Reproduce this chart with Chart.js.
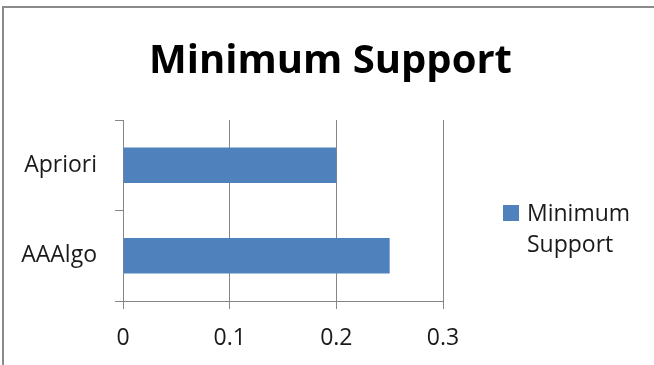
<!DOCTYPE html>
<html>
<head>
<meta charset="utf-8">
<script src="https://cdn.jsdelivr.net/npm/chart.js@4.4.1/dist/chart.umd.min.js"></script>
<style>
  html, body { margin: 0; padding: 0; background: #fff; }
  #wrap { width: 654px; height: 365px; position: relative; }
</style>
</head>
<body>
<div id="wrap"><canvas id="supportChart" width="654" height="365"></canvas></div>
<script>
const categories = ['Apriori', 'AAAlgo'];
const seriesName = 'Minimum Support';
const supportValues = [0.2, 0.25];
const xTicks = [0, 0.1, 0.2, 0.3];

const barColor = '#4F81BD';
const gridColor = '#868686';
const textColor = '#1a1a1a';
const fontFamily = "'Open Sans', 'DejaVu Sans', sans-serif";

// frame round the chart + legend on the right
const framePlugin = {
    id: 'frame',
    beforeDraw(chart) {
        const ctx = chart.ctx;
        ctx.save();
        ctx.fillStyle = '#fff';
        ctx.fillRect(0, 0, chart.width, chart.height);
        ctx.fillStyle = '#8a8a8a';
        ctx.fillRect(2, 6, 2, chart.height - 6);
        ctx.fillRect(2, 6, chart.width - 2, 2);
        ctx.restore();
    },
    afterDraw(chart) {
        const ctx = chart.ctx;
        const ds = chart.data.datasets[0];
        ctx.save();
        ctx.fillStyle = ds.backgroundColor;
        ctx.fillRect(503, 205, 16, 16);
        ctx.fillStyle = textColor;
        ctx.font = "23px " + fontFamily;
        ctx.textBaseline = 'alphabetic';
        ctx.textAlign = 'left';
        const words = ds.label.split(' ');
        ctx.fillText(words[0], 527, 221);
        ctx.fillText(words[1], 527, 252);
        ctx.restore();
    }
};

new Chart(document.getElementById('supportChart'), {
    type: 'bar',
    data: {
        labels: categories,
        datasets: [{
            label: seriesName,
            data: supportValues,
            backgroundColor: barColor,
            borderWidth: 0,
            categoryPercentage: 1,
            barPercentage: 0.39
        }]
    },
    options: {
        indexAxis: 'y',
        responsive: false,
        animation: false,
        layout: { padding: { left: 7, right: 0, top: 0, bottom: 0 } },
        plugins: {
            legend: { display: false },
            tooltip: { enabled: false },
            title: {
                display: true,
                text: 'Minimum Support',
                color: '#000',
                font: { family: fontFamily, size: 40, weight: 'bold', lineHeight: 1.2 },
                padding: { top: 38, bottom: 34 }
            }
        },
        scales: {
            x: {
                min: 0,
                max: 0.3,
                afterBuildTicks(scale) {
                    scale.ticks = xTicks.map(v => ({ value: v }));
                },
                afterFit(scale) { scale.height = 64; },
                grid: { color: gridColor, tickLength: 8, lineWidth: 1 },
                border: { display: true, color: gridColor },
                ticks: {
                    color: textColor,
                    padding: 16,
                    font: { family: fontFamily, size: 23 },
                    callback: v => String(Math.round(v * 10) / 10)
                }
            },
            y: {
                afterFit(scale) { scale.width = 116; },
                grid: { drawOnChartArea: false, color: gridColor, tickLength: 8, offset: true },
                border: { display: true, color: gridColor },
                ticks: {
                    color: textColor,
                    padding: 18,
                    font: { family: fontFamily, size: 23 }
                }
            },
            side: {
                position: 'right',
                display: true,
                afterFit(scale) { scale.width = 211; },
                grid: { display: false },
                border: { display: false },
                ticks: { display: false }
            }
        }
    },
    plugins: [framePlugin]
});
</script>
</body>
</html>
